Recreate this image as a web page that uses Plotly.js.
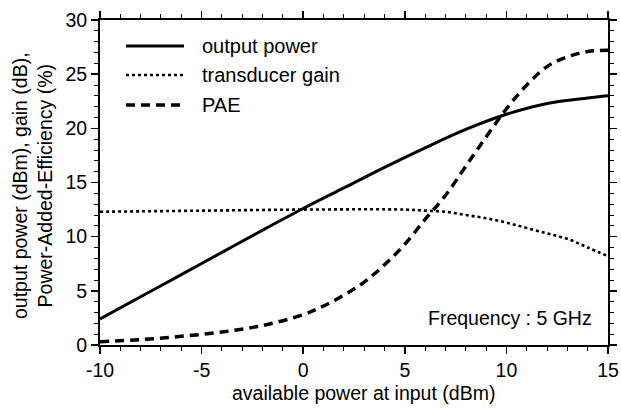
<!DOCTYPE html>
<html>
<head>
<meta charset="utf-8">
<script src="https://cdn.plot.ly/plotly-3.0.1.min.js"></script>
<style>html,body{margin:0;padding:0;background:#fff;}#chart{width:621px;height:408px;}</style>
</head>
<body>
<div id="chart"></div>
<script>
// available power at input (dBm)
const pinOut = [-10, -8, -6, -4, -2, 0, 2, 4, 6, 8, 10, 12, 14, 15];
const outputPower = [2.4, 4.45, 6.5, 8.55, 10.6, 12.6, 14.5, 16.4, 18.2, 19.9, 21.3, 22.3, 22.8, 23.0];

const pinGain = [-10, -5, 0, 5, 6, 7, 8, 9, 10, 11, 12, 13, 14, 15];
const transducerGain = [12.3, 12.4, 12.5, 12.5, 12.4, 12.3, 12.0, 11.7, 11.3, 10.8, 10.3, 9.8, 9.0, 8.2];

const pinPAE = [-10, -8, -6, -4, -2, 0, 1, 2, 3, 4, 5, 6, 7, 8, 9, 10, 11, 12, 13, 14, 15];
const pae = [0.3, 0.5, 0.8, 1.2, 1.8, 2.8, 3.6, 4.6, 5.8, 7.4, 9.3, 11.6, 13.8, 16.5, 19.2, 21.8, 24.0, 25.7, 26.6, 27.1, 27.2];

const seriesNames = ["output power", "transducer gain", "PAE"];
const xTickVals = [-10, -5, 0, 5, 10, 15];
const yTickVals = [0, 5, 10, 15, 20, 25, 30];
const xTitle = "available power at input (dBm)";
const yTitle = "output power (dBm), gain (dB),<br>Power-Added-Efficiency (%)";
const noteText = "Frequency : 5 GHz";

const FONT = "Liberation Sans, Arial, Helvetica, sans-serif";

const styles = [
  {width: 3, dash: "solid"},
  {width: 2.6, dash: "3px,3px"},
  {width: 3.5, dash: "9px,6px"}
];

const traces = [
  {x: pinOut, y: outputPower, name: seriesNames[0], mode: "lines", line: {color: "#000", width: styles[0].width, dash: styles[0].dash, shape: "spline"}},
  {x: pinGain, y: transducerGain, name: seriesNames[1], mode: "lines", line: {color: "#000", width: styles[1].width, dash: styles[1].dash, shape: "spline"}},
  {x: pinPAE, y: pae, name: seriesNames[2], mode: "lines", line: {color: "#000", width: styles[2].width, dash: styles[2].dash, shape: "spline"}}
];

const L = 100, R = 608, T = 20, B = 345, W = 621, H = 408;
const px = v => (v - L) / (R - L);
const py = v => (B - v) / (B - T);

const shapes = [];
const annotations = [];
const legendRows = [46, 75, 105];
seriesNames.forEach((n, i) => {
  shapes.push({type: "line", xref: "paper", yref: "paper",
    x0: px(126), x1: px(184), y0: py(legendRows[i]), y1: py(legendRows[i]),
    line: {color: "#000", width: styles[i].width, dash: styles[i].dash}});
  annotations.push({xref: "paper", yref: "paper", x: px(200), y: py(legendRows[i]),
    xanchor: "left", yanchor: "middle", text: n, showarrow: false,
    font: {family: FONT, size: 20, color: "#000"}});
});

annotations.push({xref: "paper", yref: "paper", x: px(594), y: py(318), xanchor: "right", yanchor: "middle",
  text: noteText, showarrow: false, font: {family: FONT, size: 19.5, color: "#000"}});

annotations.push({xref: "paper", yref: "paper", x: px(363), y: py(393), xanchor: "center", yanchor: "middle",
  text: xTitle, showarrow: false, font: {family: FONT, size: 19.5, color: "#000"}});

annotations.push({xref: "paper", yref: "paper", x: px(32), y: py(186), xanchor: "center", yanchor: "middle",
  text: yTitle, textangle: -90, showarrow: false, font: {family: FONT, size: 19.5, color: "#000"}});

const axisCommon = {
  showgrid: false, zeroline: false, showline: true, linecolor: "#000", linewidth: 2,
  mirror: "allticks", ticks: "outside", ticklen: 7, tickwidth: 1.5, tickcolor: "#000",
  tickfont: {family: FONT, size: 19.5, color: "#000"},
  minor: {dtick: 1, ticks: "outside", ticklen: 4, tickwidth: 1, tickcolor: "#000"}
};

const layout = {
  width: W, height: H,
  margin: {l: L, r: W - R, t: T, b: H - B},
  paper_bgcolor: "#fff", plot_bgcolor: "#fff",
  showlegend: false,
  xaxis: Object.assign({}, axisCommon, {range: [-10, 15], tickvals: xTickVals, ticktext: xTickVals.map(String)}),
  yaxis: Object.assign({}, axisCommon, {range: [0, 30], tickvals: yTickVals, ticktext: yTickVals.map(String)}),
  shapes: shapes,
  annotations: annotations
};

Plotly.newPlot("chart", traces, layout, {displayModeBar: false, staticPlot: true});
</script>
</body>
</html>
